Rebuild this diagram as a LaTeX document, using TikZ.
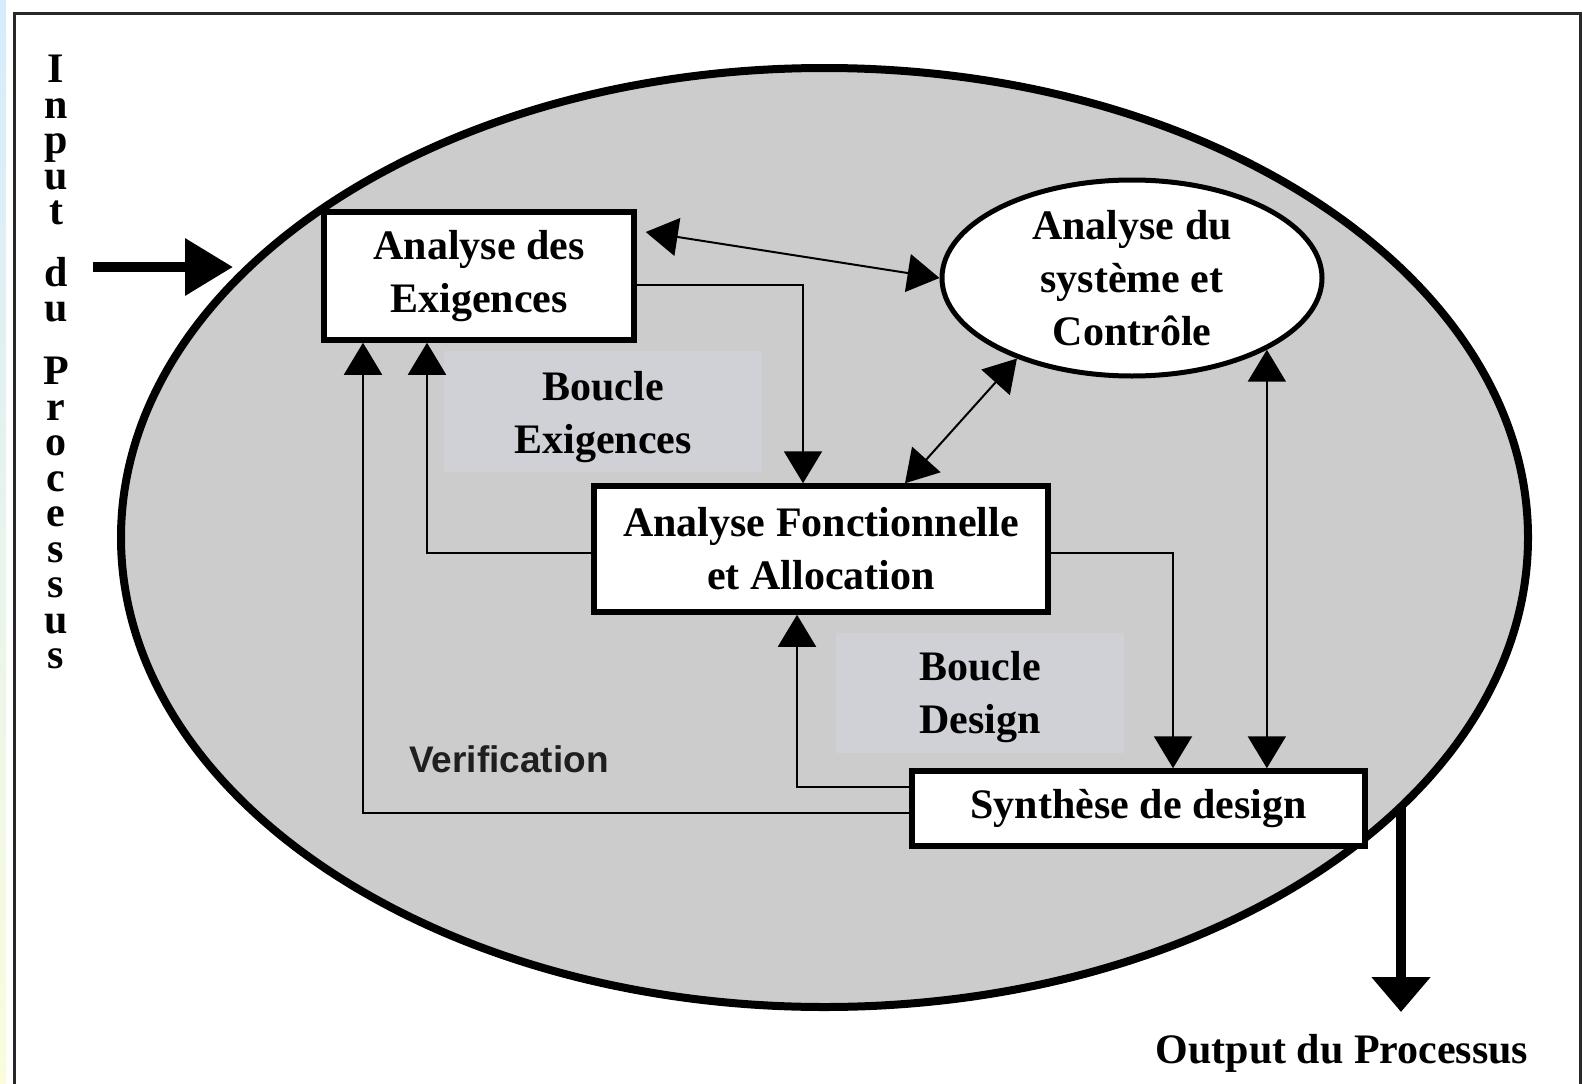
\documentclass[tikz,border=0pt]{standalone}
\usepackage{fontspec}
\setmainfont{Liberation Serif}
\newfontfamily\labelsans{Liberation Sans}
\usetikzlibrary{arrows.meta,shapes.geometric}

\definecolor{procfill}{RGB}{204,204,204}
\definecolor{loopfill}{RGB}{208,209,215}
\definecolor{framegray}{RGB}{40,40,40}
\definecolor{stripblue}{RGB}{214,236,252}
\definecolor{stripyellow}{RGB}{250,252,220}

\begin{document}
\begin{tikzpicture}[x=1pt,y=-1pt,
  bigfont/.style={font=\fontsize{42}{53}\selectfont\bfseries},
  box/.style={draw, line width=5.5pt, fill=white, rectangle, inner sep=0pt, align=center, bigfont},
  loopbg/.style={fill=loopfill, draw=none, inner sep=0pt},
  looptext/.style={align=center, bigfont, inner sep=0pt},
  letter/.style={bigfont, anchor=base, inner sep=0pt, text height=22pt, text depth=4pt},
  headtip/.tip={Triangle[length=32pt,width=38pt]},
  conn/.style={line width=2pt, -headtip},
  dbl/.style={line width=2pt, headtip-headtip},
  heavyarrow/.style={line width=10pt},
]
\useasboundingbox (0,0) rectangle (1582,1084);

% page decoration: side strip and frame
\shade[top color=stripblue, bottom color=stripyellow] (0,0) rectangle (6,1084);
\draw[framegray, line width=3pt] (1580,1095) -- (1580,13) -- (14,13) -- (14,1095);

% process envelope
\node[ellipse, draw, line width=8pt, fill=procfill, minimum width=1407pt,
      minimum height=939pt, inner sep=0pt] (proc) at (824.5,537.5) {};

% loop captions
\node[loopbg, minimum width=318pt, minimum height=121pt] (LE) at (603,411.5) {};
\node[looptext] (LEtext) at ([yshift=-6pt]LE.center) {Boucle\\Exigences};
\node[loopbg, minimum width=288pt, minimum height=120pt] (LD) at (980,693) {};
\node[looptext] (LDtext) at ([yshift=-4pt]LD.center) {Boucle\\Design};

% activities
\node[box, minimum width=310pt, minimum height=128pt] (AE) at (479,276) {Analyse des\\Exigences};
\node[ellipse, draw, line width=5pt, fill=white, minimum width=380pt,
      minimum height=196pt, inner sep=0pt] (ASC) at (1132,278) {};
\node[align=center, bigfont] (ASCtext) at (ASC.center) {Analyse du\\système et\\Contrôle};
\node[box, minimum width=454pt, minimum height=126pt] (AF) at (821,549) {Analyse Fonctionnelle\\et Allocation};
\node[box, minimum width=453pt, minimum height=75pt] (SD) at (1138.5,808.5) {Synthèse de design};

\node[font=\labelsans\fontsize{37}{44}\selectfont\bfseries, text=black!88, anchor=base]
  (VER) at (509,772) {Verification};

% connectors
\draw[conn] ([yshift=-9pt]AE.east) -| ([xshift=-18pt]AF.north);
\draw[dbl] ([xshift=9pt,yshift=44pt]AE.east) -- (ASC.west);
\draw[dbl] ([xshift=84pt]AF.north) -- (ASC.215);
\draw[dbl] (SD.north -| ASC.-28.5) -- (ASC.-28.5);
\draw[conn] ([yshift=-4pt]AF.east) -| ([xshift=34.5pt]SD.north);
\draw[conn] ([yshift=21.5pt]SD.west) -| ([xshift=-24pt]AF.south);
\draw[conn] ([yshift=-4.5pt]SD.west) -| ([xshift=-116pt]AE.south);
\draw[conn] ([yshift=-4pt]AF.west) -| ([xshift=-52pt]AE.south);

% process input
\foreach \ch/\yy [count=\i] in {I/82, n/118, p/153.5, u/189, t/224.5, d/286, u/321.5,
    P/384.5, r/420, o/455.5, c/491, e/526.5, s/562, s/597.5, u/633, s/668.5}
  \node[letter] (in\i) at (56,\yy) {\ch};
\coordinate (inStart) at (93,267);
\coordinate (inEnd) at (233,267);
\draw[heavyarrow, -{Triangle[length=48pt,width=55pt]}] (inStart) -- (inEnd);

% process output
\coordinate (outStart) at (1401,806);
\coordinate (outEnd) at (1401,1012);
\draw[heavyarrow, -{Triangle[length=35pt,width=57pt]}] (outStart) -- (outEnd);
\node[bigfont, anchor=base] (outText) at (1342,1063) {Output du Processus};
\end{tikzpicture}
\end{document}
